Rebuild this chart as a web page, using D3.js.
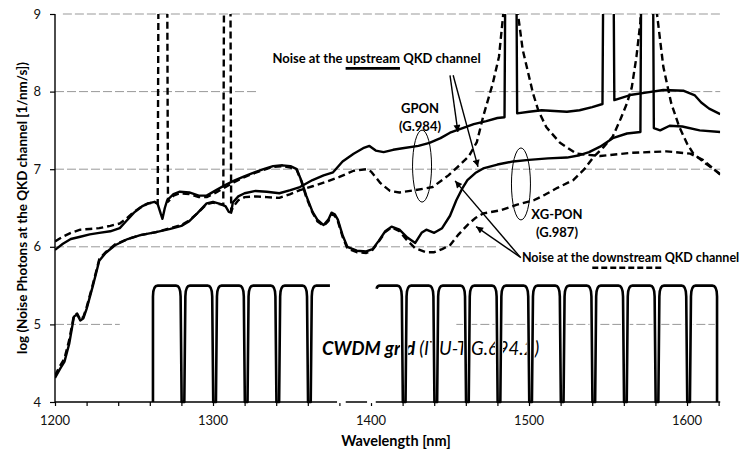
<!DOCTYPE html>
<html><head><meta charset="utf-8">
<script src="https://cdn.jsdelivr.net/npm/d3@7"></script>
<style>
html,body{margin:0;padding:0;background:#fff;overflow:hidden}
svg{display:block;font-family:Lato,"Open Sans",sans-serif}
</style></head><body>
<svg id="chart" width="743" height="451"></svg>
<script>
// ---------------- DATA ----------------
const xTickLabels = [1200, 1300, 1400, 1500, 1600];
const xMinorTicks = [1200,1220,1240,1260,1280,1300,1320,1340,1360,1380,1400,1420,1440,1460,1480,1500,1520,1540,1560,1580,1600,1620];
const yTickLabels = [4, 5, 6, 7, 8, 9];

// GPON, noise at upstream QKD channel (solid)
const gponUpstream = [[1200,4.31],[1203,4.42],[1206,4.52],[1209,4.75],[1212,5.1],[1214,5.13],[1216,5.05],[1218,5.08],[1220,5.2],[1224,5.5],[1228,5.82],[1232,5.92],[1238,6.02],[1246,6.1],[1254,6.15],[1264,6.19],[1273,6.23],[1280,6.27],[1285,6.33],[1290,6.43],[1296,6.56],[1300,6.58],[1305,6.55],[1308,6.52],[1310,6.45],[1311.5,6.44],[1312.5,6.57],[1316,6.65],[1320,6.69],[1327,6.72],[1334,6.71],[1342,6.69],[1349,6.73],[1355,6.77],[1363,6.86],[1370,6.92],[1376,6.96],[1382,7.1],[1389,7.2],[1395,7.27],[1399,7.3],[1403,7.24],[1408,7.22],[1414,7.25],[1420,7.27],[1430,7.3],[1437,7.34],[1444,7.4],[1450,7.47],[1458,7.53],[1465,7.58],[1473,7.62],[1480,7.66],[1484.5,7.67],[1485,9.5],[1492,9.5],[1492.5,7.72],[1500,7.74],[1508,7.76],[1516,7.75],[1524,7.74],[1532,7.76],[1540,7.8],[1546.5,7.84],[1547,9.5],[1553.5,9.5],[1554,7.89],[1560,7.93],[1565,7.96],[1575,7.99],[1585,8.02],[1598,8.01],[1605,7.95],[1609,7.86],[1614,7.78],[1621,7.71]];

// GPON, noise at downstream QKD channel (dashed)
const gponDownstream = [[1200,4.34],[1203,4.46],[1206,4.56],[1209,4.8],[1212,5.12],[1214,5.14],[1216,5.06],[1218,5.1],[1220,5.22],[1224,5.52],[1228,5.84],[1232,5.93],[1238,6.03],[1246,6.1],[1254,6.15],[1264,6.19],[1273,6.24],[1280,6.28],[1285,6.34],[1290,6.43],[1296,6.55],[1300,6.57],[1304,6.55],[1306.5,6.54],[1307,9.5],[1311,9.5],[1311.5,6.46],[1313,6.52],[1316,6.6],[1320,6.64],[1327,6.65],[1334,6.64],[1342,6.63],[1349,6.68],[1355,6.73],[1363,6.78],[1372,6.84],[1380,6.9],[1389,6.98],[1397,7.0],[1400,6.97],[1406,6.82],[1412,6.72],[1418,6.7],[1428,6.73],[1439,6.77],[1449,6.92],[1456,7.05],[1462,7.17],[1467,7.35],[1471,7.68],[1477,8.1],[1481,8.45],[1483.7,9.0],[1484,9.5],[1492.5,9.5],[1493,9.0],[1496,8.54],[1502.5,7.98],[1506,7.75],[1511,7.54],[1519.6,7.34],[1530,7.2],[1545,7.17],[1564,7.21],[1587,7.23],[1602,7.2],[1610,7.12],[1621,6.93]];

// XG-PON, noise at upstream QKD channel (solid)
const xgponUpstream = [[1200,5.96],[1205,6.04],[1210,6.1],[1216,6.13],[1222,6.16],[1228,6.18],[1235,6.2],[1241,6.24],[1245,6.33],[1250,6.44],[1255,6.52],[1259,6.56],[1263,6.58],[1265,6.55],[1267,6.42],[1268,6.36],[1269.5,6.5],[1271,6.6],[1275,6.68],[1279,6.71],[1285,6.7],[1291,6.66],[1296,6.66],[1302,6.73],[1308,6.8],[1313,6.85],[1319,6.9],[1325,6.95],[1332,7.0],[1338,7.04],[1344,7.05],[1349,7.04],[1353,7.0],[1356,6.85],[1359,6.66],[1363,6.45],[1366,6.35],[1370,6.28],[1373,6.35],[1375,6.44],[1377,6.42],[1379,6.35],[1382,6.15],[1385,6.0],[1391,5.95],[1397,5.94],[1401,5.97],[1405,6.08],[1409,6.2],[1413,6.26],[1418,6.22],[1423,6.12],[1428,6.05],[1432,6.18],[1435,6.22],[1440,6.18],[1445,6.24],[1450,6.4],[1454,6.6],[1458,6.76],[1461,6.86],[1466,6.95],[1471,7.01],[1480,7.06],[1490,7.1],[1500,7.12],[1512,7.14],[1524,7.15],[1532,7.18],[1538,7.22],[1545,7.29],[1553,7.4],[1562,7.46],[1570.5,7.48],[1571,9.5],[1578.5,9.5],[1579,7.53],[1583,7.5],[1589,7.56],[1597,7.55],[1608,7.5],[1621,7.48]];

// XG-PON, noise at downstream QKD channel (dashed)
const xgponDownstream = [[1200,6.07],[1205,6.13],[1210,6.18],[1216,6.22],[1222,6.23],[1228,6.24],[1235,6.27],[1241,6.3],[1245,6.36],[1250,6.45],[1255,6.52],[1259,6.56],[1263,6.57],[1265,6.56],[1265.5,9.5],[1271,9.5],[1271.5,6.58],[1275,6.66],[1279,6.69],[1285,6.68],[1291,6.64],[1296,6.64],[1302,6.7],[1308,6.77],[1313,6.83],[1319,6.89],[1325,6.94],[1332,6.99],[1338,7.03],[1344,7.04],[1349,7.02],[1353,6.99],[1356,6.84],[1359,6.64],[1363,6.44],[1366,6.33],[1370,6.27],[1373,6.33],[1375,6.42],[1377,6.4],[1379,6.33],[1382,6.13],[1385,5.98],[1391,5.93],[1397,5.92],[1401,5.96],[1405,6.07],[1409,6.19],[1413,6.25],[1418,6.2],[1423,6.08],[1428,5.98],[1435,5.93],[1440,5.93],[1445,5.97],[1450,6.02],[1455,6.15],[1461,6.28],[1466,6.37],[1471,6.43],[1482,6.47],[1492,6.54],[1503,6.6],[1510,6.67],[1518,6.76],[1528,6.86],[1535,7.0],[1541,7.16],[1547,7.28],[1553,7.42],[1558,7.65],[1562,7.85],[1565,8.05],[1568,8.45],[1570.5,8.9],[1571,9.5],[1580.5,9.5],[1581,9.0],[1585,8.32],[1590,7.85],[1595,7.55],[1600,7.33],[1604,7.2],[1612,7.07],[1621,6.94]];

// CWDM grid (ITU-T G.694.2) channel boundaries
const cwdmLeftNotches = [1281, 1301, 1321, 1341, 1361];
const cwdmRightNotches = [1421, 1441, 1461, 1481, 1501, 1521, 1541, 1561, 1581, 1601];
const cwdmLeftGroup = [1262, 1374];
const cwdmRightGroup = [1403.5, 1619];
const cwdmLevel = [4, 5.5];

// dashed horizontal gridline segments: [value, from, to]
const gridSegments = [[9,1205,1621],[8,1200,1328.5],[8,1466,1621],[7,1200,1621],[6,1200,1481],[5,1200,1241],[5,1454,1621]];

// ---------------- CHART ----------------
const svg = d3.select('#chart');
const x = d3.scaleLinear().domain([1200, 1621]).range([55, 720.2]);
const y = d3.scaleLinear().domain([4, 9]).range([402, 14]);

const defs = svg.append('defs');
defs.append('clipPath').attr('id','plot').append('rect')
  .attr('x', x(1200)).attr('y', y(9)).attr('width', x(1621)-x(1200)).attr('height', y(4)-y(9));
defs.append('marker').attr('id','arr').attr('viewBox','0 0 10 10')
  .attr('refX',10).attr('refY',5).attr('markerWidth',9).attr('markerHeight',7)
  .attr('markerUnits','userSpaceOnUse').attr('orient','auto')
  .append('path').attr('d','M0,0L10,5L0,10z').attr('fill','#000');

// gridlines
svg.append('g').selectAll('line').data(gridSegments).join('line')
  .attr('x1', d => x(d[1])).attr('x2', d => x(d[2]))
  .attr('y1', d => y(d[0])).attr('y2', d => y(d[0]))
  .attr('stroke', '#999').attr('stroke-width', 1).attr('stroke-dasharray', '9,3');

// curves
const line = d3.line().x(d => x(d[0])).y(d => y(d[1]));
const curves = [
  {data: gponUpstream, dash: null},
  {data: xgponUpstream, dash: null},
  {data: gponDownstream, dash: '7,4'},
  {data: xgponDownstream, dash: '7,4'}
];
const gc = svg.append('g').attr('clip-path','url(#plot)');
gc.selectAll('path').data(curves).join('path')
  .attr('d', d => line(d.data)).attr('fill','none').attr('stroke','#000')
  .attr('stroke-width', 2.4).attr('stroke-linejoin','round')
  .attr('stroke-dasharray', d => d.dash);

// CWDM text
const cw = svg.append('text').attr('x', x(1369)).attr('y', y(4.61))
  .attr('font-size', 18.5).attr('font-style','italic').attr('fill','#000');
cw.append('tspan').attr('font-weight','bold').text('CWDM grid ');
cw.append('tspan').attr('font-weight','normal').text('(ITU-T G.694.2)');

// CWDM grid path
const TOP = cwdmLevel[1], BOT = cwdmLevel[0], KNEE = 5.36;
function notch(p, b) {
  p.lineTo(x(b-4.4), y(TOP));
  p.quadraticCurveTo(x(b-1.6), y(TOP), x(b-1.5), y(KNEE));
  p.lineTo(x(b-0.85), y(BOT));
  p.lineTo(x(b+0.85), y(BOT));
  p.lineTo(x(b+1.5), y(KNEE));
  p.quadraticCurveTo(x(b+1.6), y(TOP), x(b+4.4), y(TOP));
}
const pL = d3.path();
pL.moveTo(x(cwdmLeftGroup[0]), y(BOT));
pL.lineTo(x(cwdmLeftGroup[0]), y(KNEE));
pL.quadraticCurveTo(x(cwdmLeftGroup[0]), y(TOP), x(cwdmLeftGroup[0]+3), y(TOP));
cwdmLeftNotches.forEach(b => notch(pL, b));
pL.lineTo(x(cwdmLeftGroup[1]), y(TOP));
const pR = d3.path();
pR.moveTo(x(cwdmRightGroup[0]), y(5.46));
pR.quadraticCurveTo(x(cwdmRightGroup[0]+0.5), y(TOP), x(cwdmRightGroup[0]+2), y(TOP));
cwdmRightNotches.forEach(b => notch(pR, b));
pR.lineTo(x(cwdmRightGroup[1]-3), y(TOP));
pR.quadraticCurveTo(x(cwdmRightGroup[1]), y(TOP), x(cwdmRightGroup[1]), y(KNEE));
pR.lineTo(x(cwdmRightGroup[1]), y(BOT));
const cg = svg.append('g');
[pL.toString(), pR.toString()].forEach(d => {
  cg.append('path').attr('d', d).attr('fill','none').attr('stroke','#fff').attr('stroke-width',4.4);
});
[pL.toString(), pR.toString()].forEach(d => {
  cg.append('path').attr('d', d).attr('fill','none').attr('stroke','#000').attr('stroke-width',2.6).attr('stroke-linejoin','round');
});

// ellipses
const ellipses = [[1432.3, 7.04], [1494.9, 6.81]];
svg.append('g').selectAll('ellipse').data(ellipses).join('ellipse')
  .attr('cx', d => x(d[0])).attr('cy', d => y(d[1])).attr('rx', 9.5).attr('ry', 36)
  .attr('fill','none').attr('stroke','#000').attr('stroke-width',1);

// arrows
const arrows = [[1450,8.21,1455,7.48],[1452,8.21,1467.7,7.03],[1494.3,5.87,1453.2,6.85],[1494.9,5.86,1466.5,6.26]];
svg.append('g').selectAll('line').data(arrows).join('line')
  .attr('x1', d => x(d[0])).attr('y1', d => y(d[1])).attr('x2', d => x(d[2])).attr('y2', d => y(d[3]))
  .attr('stroke','#000').attr('stroke-width',1.4).attr('marker-end','url(#arr)');

// labels with underline legend samples
function legendText(cx, cy, anchor, parts, dash, fs) {
  const t = svg.append('text').attr('y', y(cy)).attr('font-size', fs).attr('font-weight','bold').attr('fill','#000');
  const spans = parts.map(s => t.append('tspan').text(s));
  const lens = spans.map(s => s.node().getComputedTextLength());
  const total = lens.reduce((a,b) => a+b, 0);
  const x0 = anchor === 'middle' ? x(cx) - total/2 : x(cx);
  t.attr('x', x0);
  const u0 = x0 + lens[0], u1 = u0 + lens[1];
  svg.append('line').attr('x1', u0).attr('x2', u1).attr('y1', y(cy)+5.5).attr('y2', y(cy)+5.5)
    .attr('stroke','#000').attr('stroke-width', 2.6).attr('stroke-dasharray', dash);
}
legendText(1403.5, 8.37, 'middle', ['Noise at the ', 'upstream', ' QKD channel'], null, 13);
legendText(1495.5, 5.80, 'start', ['Noise at the ', 'downstream', ' QKD channel'], '6,3', 12.5);

const tags = [['GPON',1431,7.72],['(G.984)',1431,7.49],['XG-PON',1517.7,6.36],['(G.987)',1517.7,6.13]];
svg.append('g').selectAll('text').data(tags).join('text')
  .attr('x', d => x(d[1])).attr('y', d => y(d[2])).attr('text-anchor','middle')
  .attr('font-size', 13).attr('font-weight','bold').attr('fill','#000').text(d => d[0]);

// axes
const ax = svg.append('g').attr('transform', `translate(0,${y(4)})`)
  .call(d3.axisBottom(x).tickValues(xMinorTicks).tickSize(4).tickFormat(''));
ax.select('.domain').attr('stroke','#000').attr('stroke-width',1.4).attr('d', `M${x(1200)},0H${x(1621)}`);
ax.selectAll('.tick line').attr('stroke','#000').attr('stroke-width',1.2);
// breaks in axis line
[[1378.5,1384],[1397.5,1403]].forEach(g => {
  svg.append('rect').attr('x', x(g[0])).attr('y', y(4)-1.5).attr('width', x(g[1])-x(g[0])).attr('height', 2.6).attr('fill','#fff');
});
svg.append('g').selectAll('text').data(xTickLabels).join('text')
  .attr('x', d => x(d)).attr('y', 425).attr('text-anchor','middle')
  .attr('font-size', 13).attr('fill','#111').text(d => d);

const ay = svg.append('g').attr('transform', `translate(${x(1200)},0)`)
  .call(d3.axisLeft(y).tickValues(yTickLabels).tickSize(5).tickPadding(9).tickFormat(d3.format('d')));
ay.select('.domain').attr('stroke','#000').attr('stroke-width',1.4).attr('d', `M0,${y(4)}V${y(9)}`);
ay.selectAll('.tick line').attr('stroke','#000').attr('stroke-width',1.2);
ay.selectAll('.tick text').attr('font-size', 13).attr('fill','#111').attr('font-family','Lato,"Open Sans",sans-serif');

svg.append('text').attr('x', 396).attr('y', 446).attr('text-anchor','middle')
  .attr('font-size', 14.5).attr('font-weight','bold').attr('fill','#000').text('Wavelength [nm]');
svg.append('text').attr('transform', 'translate(27,208) rotate(-90)').attr('text-anchor','middle')
  .attr('font-size', 13.4).attr('font-weight','bold').attr('fill','#000')
  .text('log (Noise Photons at the QKD channel [1/nm/s])');
</script>
</body></html>
